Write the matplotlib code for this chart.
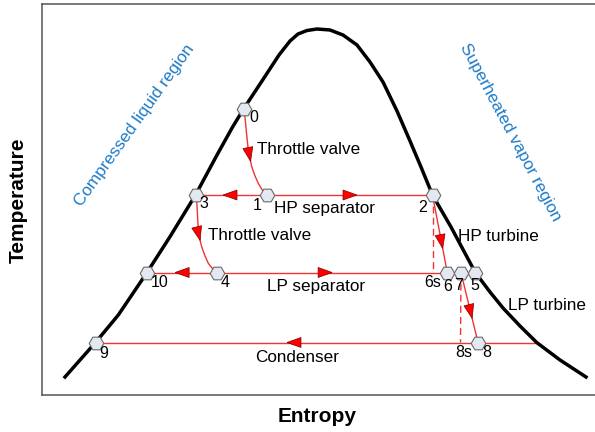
import numpy as np
import matplotlib
matplotlib.use("Agg")
import matplotlib.pyplot as plt
from matplotlib.patches import Polygon

plt.rcParams['font.family'] = ['Liberation Sans', 'DejaVu Sans']

# saturation dome, (entropy, temperature) in arbitrary plot units
dome_s = [65, 80, 95.5, 118.3, 147, 170, 195.5, 217, 232, 243.5, 262, 279, 290, 298, 307, 317,
          330, 343, 357, 370, 383, 397, 410, 421, 432.5, 451, 475.3, 490, 503, 520, 536.7, 560, 586]
dome_y = [377, 360, 342.5, 315, 272.5, 236.7, 195, 155, 128, 109, 81, 55, 41, 34, 30.5, 29,
          30, 35, 45, 62, 82, 111, 141, 167, 195, 227, 272.5, 292, 308, 326, 342.5, 360, 377]

# state points
states = ['0', '1', '2', '3', '4', '5', '6', '7', '8', '9', '10']
state_s = [243.5, 267.3, 432.5, 195.5, 217.3, 475.3, 447.3, 461, 478, 95.5, 147]
state_y = [109, 195, 195, 195, 272.5, 272.5, 272.5, 272.5, 342.5, 342.5, 272.5]

# isentropic ideal points
ideal_names = ['6s', '8s']
ideal_s = [432.5, 460.5]
ideal_y = [272.5, 342.5]
cond_end_s = 536.7

# throttle valve paths
thr1_s = [243.5, 245, 246.5, 248.3, 251.7, 255, 258.3, 263.3, 267.3]
thr1_y = [109, 117, 133, 150, 166.7, 176, 183.3, 191.7, 195]
thr2_s = [195.5, 196.7, 198.3, 200, 201.7, 205, 208.3, 212, 215, 217.3]
thr2_y = [195, 200, 230, 240, 246.7, 256, 263.3, 268, 271.7, 272.5]

Y0 = 395


def T(py):
    return Y0 - np.asarray(py, dtype=float)


def tri(ax, tip, d, length=14, width=10):
    d = np.asarray(d, float)
    d = d / np.hypot(*d)
    n = np.array([-d[1], d[0]])
    tip = np.asarray(tip, float)
    base = tip - d * length
    pts = [tip, base + n * width / 2, base - n * width / 2]
    ax.add_patch(Polygon(pts, closed=True, facecolor='#ff0000', edgecolor='#7a0000',
                         lw=0.5, zorder=4))


def seg_arrow(ax, p0, p1, frac):
    p0 = np.asarray(p0, float)
    p1 = np.asarray(p1, float)
    tri(ax, p0 + frac * (p1 - p0), p1 - p0)


def curve_arrow(ax, xs, ys, frac):
    xs = np.asarray(xs, float)
    ys = np.asarray(ys, float)
    L = np.concatenate([[0], np.cumsum(np.hypot(np.diff(xs), np.diff(ys)))])
    t = frac * L[-1]
    x = np.interp(t, L, xs)
    y = np.interp(t, L, ys)
    i = np.searchsorted(L, t)
    tri(ax, (x, y), (xs[i] - xs[i - 1], ys[i] - ys[i - 1]))


fig = plt.figure(figsize=(5.95, 4.32), dpi=100)
ax = fig.add_axes([41.5 / 595, 37 / 432, (595 - 41.5) / 595, 391 / 432])
ax.set_xlim(41.5, 595)
ax.set_ylim(0, 391)
ax.set_xticks([])
ax.set_yticks([])
for sp in ax.spines.values():
    sp.set_color('#555555')
    sp.set_linewidth(1.1)
ax.spines['right'].set_visible(False)

red = '#f03434'
P = {n: (s, T(y)) for n, s, y in zip(states, state_s, state_y)}
I = {n: (s, T(y)) for n, s, y in zip(ideal_names, ideal_s, ideal_y)}

# dome
ax.plot(dome_s, T(dome_y), color='black', lw=2.5, zorder=3, solid_joinstyle='round')

# separators / condenser
ax.plot([P['3'][0], P['2'][0]], [P['3'][1], P['2'][1]], color=red, lw=1.0, zorder=2)
ax.plot([P['10'][0], P['5'][0]], [P['10'][1], P['5'][1]], color=red, lw=1.0, zorder=2)
ax.plot([P['9'][0], cond_end_s], [P['9'][1], P['9'][1]], color=red, lw=1.0, zorder=2)

# throttle valves
ax.plot(thr1_s, T(thr1_y), color=red, lw=1.0, zorder=2)
ax.plot(thr2_s, T(thr2_y), color=red, lw=1.0, zorder=2)

# turbines
ax.plot([P['2'][0], P['6'][0]], [P['2'][1], P['6'][1]], color=red, lw=1.0, zorder=2)
ax.plot([P['7'][0], P['8'][0]], [P['7'][1], P['8'][1]], color=red, lw=1.0, zorder=2)
ax.plot([P['2'][0], I['6s'][0]], [P['2'][1], I['6s'][1]], color=red, lw=1.0,
        ls=(0, (5, 3)), zorder=2)
ax.plot([P['7'][0], I['8s'][0]], [P['7'][1], I['8s'][1]], color=red, lw=1.0,
        ls=(0, (5, 3)), zorder=2)

# arrows
seg_arrow(ax, P['1'], P['3'], 0.617)
seg_arrow(ax, P['1'], P['2'], 0.543)
seg_arrow(ax, P['4'], P['10'], 0.60)
seg_arrow(ax, P['4'], P['5'], 0.445)
seg_arrow(ax, (cond_end_s, P['9'][1]), P['9'], 0.566)
seg_arrow(ax, P['2'], P['6'], 0.69)
seg_arrow(ax, P['7'], P['8'], 0.654)
curve_arrow(ax, thr1_s, T(thr1_y), 0.58)
curve_arrow(ax, thr2_s, T(thr2_y), 0.55)

# state markers
ax.plot(state_s, T(state_y), ls='none', marker='H', ms=10.5, mfc='#e4e9f1', mec='#6a6a6a',
        mew=0.8, zorder=5)

label_off = {'0': (10, -8), '1': (-10, -10), '2': (-10, -12), '3': (8.5, -9), '4': (8, -10),
             '5': (0, -13), '6': (0, -14), '7': (-2, -13), '8': (9, -10), '9': (8.5, -11),
             '10': (13, -10), '6s': (0, -10), '8s': (3, -10)}
for n, xy in list(P.items()) + list(I.items()):
    ax.annotate(n, xy, xytext=label_off[n], textcoords='offset pixels', ha='center',
                va='center', fontsize=11.5, zorder=6)

fs = 12.3
ax.text(256.7, T(150), 'Throttle valve', fontsize=fs, va='center', ha='left')
ax.text(208.3, T(235), 'Throttle valve', fontsize=fs, va='center', ha='left')
ax.text(325, T(208.3), 'HP separator', fontsize=fs, va='center', ha='center')
ax.text(316.5, T(286.7), 'LP separator', fontsize=fs, va='center', ha='center')
ax.text(296.7, T(358), 'Condenser', fontsize=fs, va='center', ha='center')
ax.text(458.3, T(236.7), 'HP turbine', fontsize=fs, va='center', ha='left')
ax.text(508, T(305), 'LP turbine', fontsize=fs, va='center', ha='left')

blue = '#1e7bc6'
ax.text(134, T(125.7), 'Compressed liquid region', color=blue, fontsize=fs, rotation=54.5,
        ha='center', va='center', rotation_mode='anchor')
ax.text(510, T(132), 'Superheated vapor region', color=blue, fontsize=fs, rotation=-62,
        ha='center', va='center', rotation_mode='anchor')

fig.text(18 / 595, 1 - 200 / 432, 'Temperature', rotation=90, fontsize=15, fontweight='bold',
         ha='center', va='center')
fig.text(317 / 595, 1 - 417 / 432, 'Entropy', fontsize=15, fontweight='bold',
         ha='center', va='center')

fig.savefig('out.png', dpi=100)
